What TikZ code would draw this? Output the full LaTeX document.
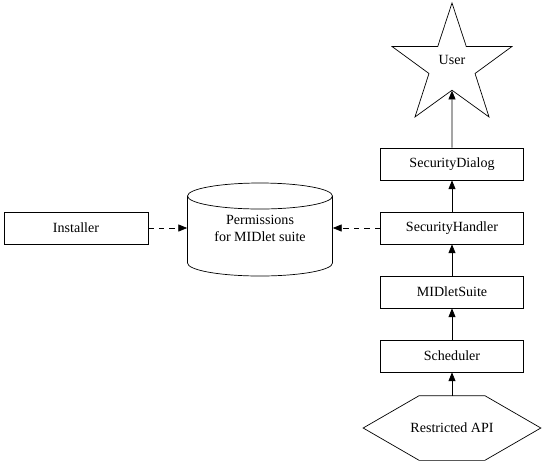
\documentclass[tikz,border=0pt]{standalone}
\usepackage{fontspec}
\setmainfont{Liberation Serif}
\usetikzlibrary{arrows.meta,shapes.geometric}
\tikzset{
  basic/.style  = {draw, thin, font=\rmfamily\fontsize{8}{9.6}\selectfont, align=center, inner sep=0pt},
  box/.style    = {basic, rectangle, minimum width=2.86cm, minimum height=0.64cm},
  flow/.style   = {-{Triangle[length=5pt,width=4pt]}, thin},
  store/.style  = {flow, dashed}
}

\begin{document}
\begin{tikzpicture}[x=0.02cm,y=-0.02cm]
\useasboundingbox (0,0) rectangle (551,471);
\node[basic, star, star points=5, star point ratio=2.6, minimum size=2.52cm,
      text height=6pt, text depth=7.4pt] (user) at (452,66) {User};
\node[box] (dialog) at (452,164) {SecurityDialog};
\node[box] (handler) at (452,228) {SecurityHandler};
\node[box] (suite) at (452,292) {MIDletSuite};
\node[box] (sched) at (452,356) {Scheduler};
\node[basic, draw=none, minimum width=3.54cm, minimum height=1.28cm] (api) at (452,428) {Restricted API};
% hexagon round the restricted API
\draw[thin] (api.west) -- ([xshift=1.12cm]api.north west) -- ([xshift=-1.12cm]api.north east)
  -- (api.east) -- ([xshift=-1.12cm]api.south east) -- ([xshift=1.12cm]api.south west) -- cycle;
\node[basic, draw=none, minimum width=2.9cm, minimum height=1.86cm] (perm) at (260,228) {Permissions\\for MIDlet suite};
% cylinder outline round the permissions
\draw[thin] (260,196) ellipse [x radius=72.5, y radius=13];
\draw[thin] (187.5,196) -- (187.5,263) arc[start angle=180, end angle=0, x radius=72.5, y radius=13] -- (332.5,196);
\node[box, minimum width=2.88cm] (inst) at (76,228) {Installer};

\draw[flow] (api) -- (sched);
\draw[flow] (sched) -- (suite);
\draw[flow] (suite) -- (handler);
\draw[flow] (handler) -- (dialog);
\draw[flow] (dialog) -- (user);
\draw[store] (inst) -- (perm);
\draw[store] (handler) -- (perm);
\end{tikzpicture}
\end{document}
